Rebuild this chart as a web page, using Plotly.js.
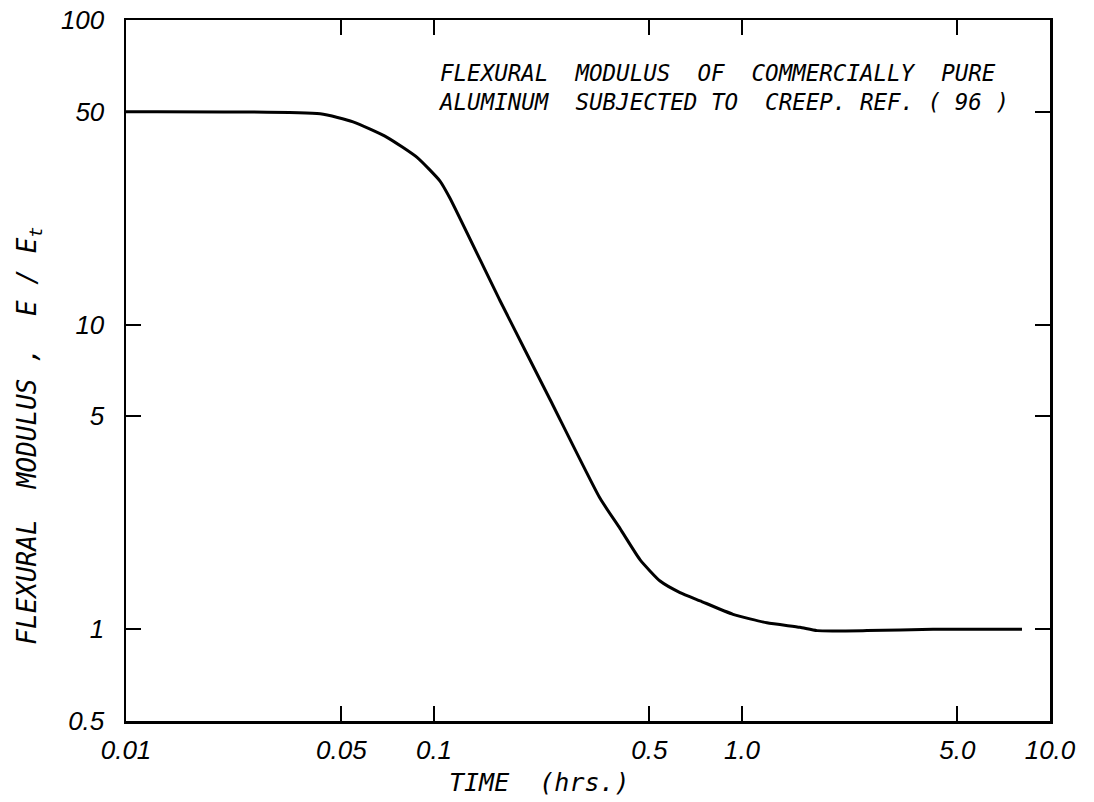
<!DOCTYPE html>
<html>
<head>
<meta charset="utf-8">
<script src="https://cdn.plot.ly/plotly-3.0.1.min.js"></script>
<style>html,body{margin:0;padding:0;background:#fff;}#chart{width:1094px;height:802px;}</style>
</head>
<body>
<div id="chart"></div>
<script>
// Time (hrs.)
const timeHrs = [0.01, 0.0427, 0.0546, 0.0704, 0.0881, 0.1046, 0.1127, 0.1637, 0.2381, 0.346, 0.402, 0.467, 0.542, 0.629, 0.731, 0.935, 1.205, 1.542, 1.753, 2.547, 4.17, 8.11];
// Flexural modulus E/Et
const modulus = [50, 49.2, 46.3, 41.2, 35.4, 29.6, 26.0, 12.0, 5.68, 2.69, 2.14, 1.69, 1.44, 1.32, 1.24, 1.12, 1.05, 1.015, 0.99, 0.99, 1.0, 1.0];

const xTickVals = [0.01, 0.05, 0.1, 0.5, 1, 5, 10];
const xTickText = ['0.01', '0.05', '0.1', '0.5', '1.0', '5.0', '10.0'];
const yTickVals = [0.5, 1, 5, 10, 50, 100];
const yTickText = ['0.5', '1', '5', '10', '50', '100'];

const noteLines = ['FLEXURAL  MODULUS  OF  COMMERCIALLY  PURE', 'ALUMINUM  SUBJECTED TO  CREEP. REF. ( 96 )'];
const xTitle = 'TIME  (hrs.)';
const yTitle = 'FLEXURAL  MODULUS ,  E / E<sub>t</sub>';

const tickFam = 'Liberation Sans, Arial, sans-serif';
const textFam = 'DejaVu Sans Mono, monospace';
const tickFont = {family: tickFam, size: 26, color: '#000', style: 'italic'};

const trace = {
  x: timeHrs, y: modulus, type: 'scatter', mode: 'lines',
  line: {color: '#000', width: 3, shape: 'spline', smoothing: 0.5},
  hoverinfo: 'skip', showlegend: false
};

const layout = {
  width: 1094, height: 802,
  margin: {l: 126, r: 44, t: 20, b: 81},
  paper_bgcolor: '#fff', plot_bgcolor: '#fff',
  xaxis: {
    type: 'log', range: [Math.log10(0.01), Math.log10(10)],
    tickvals: xTickVals, ticktext: xTickText,
    ticks: 'inside', ticklen: 15, tickwidth: 2, tickcolor: '#000',
    showline: true, linewidth: 2.5, linecolor: '#000', mirror: 'ticks',
    showgrid: false, zeroline: false,
    tickfont: tickFont, ticklabelstandoff: 4
  },
  yaxis: {
    type: 'log', range: [Math.log10(0.5), Math.log10(100)],
    tickvals: yTickVals, ticktext: yTickText,
    ticks: 'inside', ticklen: 15, tickwidth: 2, tickcolor: '#000',
    showline: true, linewidth: 2.5, linecolor: '#000', mirror: 'ticks',
    showgrid: false, zeroline: false,
    tickfont: tickFont, ticklabelstandoff: 14
  },
  annotations: [
    {xref: 'paper', yref: 'paper', x: 0.448, y: -0.088, xanchor: 'center', yanchor: 'middle',
     text: xTitle, showarrow: false, font: {family: textFam, size: 25, color: '#000', style: 'italic'}},
    {xref: 'paper', yref: 'paper', x: -0.105, y: 0.407, xanchor: 'center', yanchor: 'middle', textangle: -90,
     text: yTitle, showarrow: false, font: {family: textFam, size: 26, color: '#000', style: 'italic'}},
    {xref: 'paper', yref: 'paper', x: 0.336, y: 0.904, xanchor: 'left', yanchor: 'middle', align: 'left',
     text: noteLines.join('<br>'), showarrow: false,
     font: {family: textFam, size: 22.5, color: '#000', style: 'italic'}}
  ]
};

Plotly.newPlot('chart', [trace], layout, {displayModeBar: false, staticPlot: true});
</script>
</body>
</html>
